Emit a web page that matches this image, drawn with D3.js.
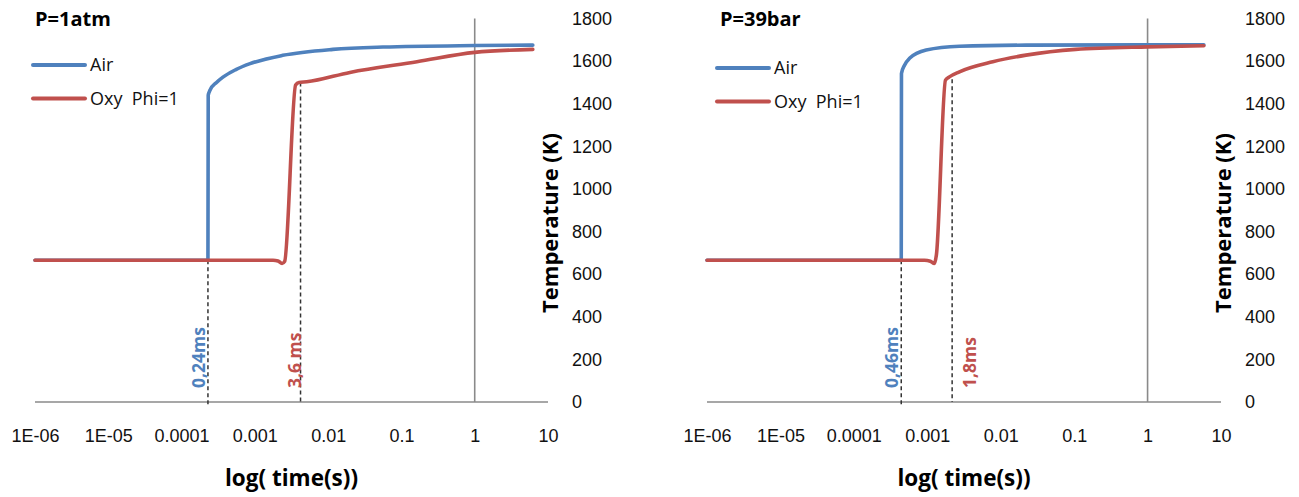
<!DOCTYPE html>
<html>
<head>
<meta charset="utf-8">
<script src="https://cdn.jsdelivr.net/npm/d3@7"></script>
<style>
  body { margin: 0; background: #fff; }
  svg { display: block; font-family: "Open Sans", "Liberation Sans", sans-serif; }
  .tick text { font-size: 18px; fill: #111; }
</style>
</head>
<body>
<div id="chart"></div>
<script>
// chart values (time in s, temperature in K)
const panelTitles = ["P=1atm", "P=39bar"];
const seriesNames = ["Air", "Oxy  Phi=1"];
const xTickValues = [1e-6, 1e-5, 1e-4, 1e-3, 1e-2, 1e-1, 1, 10];
const xTickLabels = ["1E-06", "1E-05", "0.0001", "0.001", "0.01", "0.1", "1", "10"];
const yTickValues = [0, 200, 400, 600, 800, 1000, 1200, 1400, 1600, 1800];

const air1atm = [
  [1e-6, 665], [2.29e-4, 665], [2.31e-4, 1440], [2.44e-4, 1463], [3.0e-4, 1500],
  [3.67e-4, 1525], [5.5e-4, 1560], [8.6e-4, 1588], [2.4e-3, 1627], [0.0116, 1655],
  [0.056, 1666], [1, 1673], [6.2, 1675]
];
const oxy1atm = [
  [1e-6, 665], [1.77e-3, 665], [2.07e-3, 662], [2.35e-3, 650], [2.55e-3, 660],
  [3.6e-3, 1488], [4.0e-3, 1500], [5.1e-3, 1503], [0.0198, 1547], [0.163, 1597],
  [1, 1641], [6.2, 1655]
];
const air39bar = [
  [1e-6, 665], [4.42e-4, 665], [4.45e-4, 1542], [4.9e-4, 1581], [5.73e-4, 1613],
  [9.66e-4, 1652], [2.74e-3, 1670], [0.0221, 1675], [1, 1676], [5.84, 1676]
];
const oxy39bar = [
  [1e-6, 665], [9.16e-4, 665], [1.1e-3, 661], [1.25e-3, 650], [1.33e-3, 690],
  [1.77e-3, 1511], [2.0e-3, 1526], [2.74e-3, 1550], [7.8e-3, 1597], [0.0221, 1628],
  [0.105, 1655], [1, 1667], [5.84, 1672]
];

// ignition delay markers: [time, temperature where the dashed line starts, label]
const markers1atm = [[2.29e-4, 665, "0,24ms"], [4.2e-3, 1500, "3,6 ms"]];
const markers39bar = [[4.42e-4, 665, "0,46ms"], [2.18e-3, 1515, "1,8ms"]];

const xTitle = "log( time(s))";
const yTitle = "Temperature (K)";

const width = 1299,
  height = 497,
  plotTop = 18.5,
  plotBottom = 402,
  colors = ["#4F81BD", "#C0504D"],
  gridGrey = "#8a8a8a";

const panels = [
  { x0: 35, x1: 548, title: panelTitles[0], series: [air1atm, oxy1atm], markers: markers1atm,
    labelDx: [-3, 0], legendX: 33, legendY: 65 },
  { x0: 707, x1: 1221, title: panelTitles[1], series: [air39bar, oxy39bar], markers: markers39bar,
    labelDx: [-3, 24], legendX: 717, legendY: 68 }
];

const svg = d3.select("#chart").append("svg")
  .attr("width", width)
  .attr("height", height);

const yScale = d3.scaleLinear().domain([0, 1800]).range([plotBottom, plotTop]);

panels.forEach(p => {
  const xScale = d3.scaleLog().domain([1e-6, 10]).range([p.x0, p.x1]);
  const g = svg.append("g");

  // x tick labels
  g.append("g")
    .attr("transform", `translate(0,${plotBottom})`)
    .call(d3.axisBottom(xScale)
      .tickValues(xTickValues)
      .tickFormat((d, i) => xTickLabels[i])
      .tickSize(0)
      .tickPadding(27))
    .call(a => a.select(".domain").remove());

  // y tick labels on the right
  g.append("g")
    .attr("transform", `translate(${p.x1},0)`)
    .call(d3.axisRight(yScale)
      .tickValues(yTickValues)
      .tickFormat(d3.format("d"))
      .tickSize(0)
      .tickPadding(24))
    .call(a => a.select(".domain").remove());

  // axis lines: horizontal at 0 K, vertical crossing at t = 1 s
  g.append("line")
    .attr("x1", p.x0).attr("x2", p.x1)
    .attr("y1", yScale(0)).attr("y2", yScale(0))
    .attr("stroke", gridGrey).attr("stroke-width", 1.6);
  g.append("line")
    .attr("x1", xScale(1)).attr("x2", xScale(1))
    .attr("y1", yScale(1800)).attr("y2", yScale(0))
    .attr("stroke", gridGrey).attr("stroke-width", 1.6);

  // dashed ignition markers
  p.markers.forEach((m, i) => {
    const mx = xScale(m[0]);
    g.append("line")
      .attr("x1", mx).attr("x2", mx)
      .attr("y1", yScale(m[1])).attr("y2", yScale(0) + (i === 0 ? 5 : 0))
      .attr("stroke", "#333").attr("stroke-width", 1.5)
      .attr("stroke-dasharray", "4,3");
    g.append("text")
      .attr("transform", `translate(${mx + p.labelDx[i]},388) rotate(-90)`)
      .attr("fill", colors[i])
      .attr("font-size", 17.5)
      .attr("font-weight", "bold")
      .style("white-space", "pre")
      .text(m[2]);
  });

  // temperature curves
  const line = d3.line()
    .x(d => xScale(d[0]))
    .y(d => yScale(d[1]))
    .curve(d3.curveMonotoneX);

  g.selectAll(".curve")
    .data(p.series)
    .join("path")
    .attr("class", "curve")
    .attr("d", line)
    .attr("fill", "none")
    .attr("stroke", (d, i) => colors[i])
    .attr("stroke-width", 3.6)
    .attr("stroke-linejoin", "round")
    .attr("stroke-linecap", "round");

  // legend
  seriesNames.forEach((name, i) => {
    const ly = p.legendY + i * 33.5;
    g.append("line")
      .attr("x1", p.legendX).attr("x2", p.legendX + 52)
      .attr("y1", ly).attr("y2", ly)
      .attr("stroke", colors[i]).attr("stroke-width", 4)
      .attr("stroke-linecap", "round");
    g.append("text")
      .attr("x", p.legendX + 57).attr("y", ly)
      .attr("dy", "0.35em")
      .attr("font-size", 18)
      .attr("fill", "#111")
      .style("white-space", "pre")
      .text(name);
  });

  // panel title
  g.append("text")
    .attr("x", p.x0 + (p.x0 > 100 ? 13 : 0)).attr("y", 26)
    .attr("font-size", 20)
    .attr("font-weight", "bold")
    .text(p.title);

  // axis titles
  g.append("text")
    .attr("x", (p.x0 + p.x1) / 2).attr("y", 486)
    .attr("text-anchor", "middle")
    .attr("font-size", 22.5)
    .attr("font-weight", "bold")
    .text(xTitle);
  g.append("text")
    .attr("transform", `translate(${p.x1 + 10},223) rotate(-90)`)
    .attr("text-anchor", "middle")
    .attr("font-size", 22)
    .attr("font-weight", "bold")
    .text(yTitle);
});
</script>
</body>
</html>
